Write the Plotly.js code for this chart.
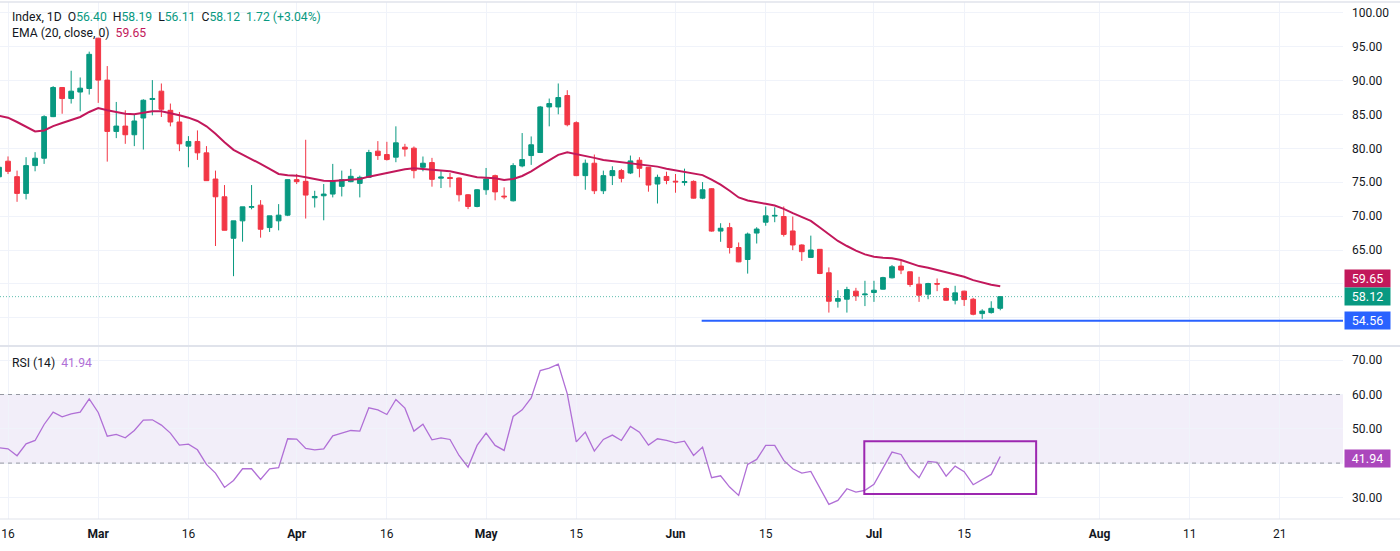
<!DOCTYPE html>
<html>
<head>
<meta charset="utf-8">
<script src="https://cdn.plot.ly/plotly-3.0.1.min.js"></script>
<style>html,body{margin:0;padding:0;background:#fff;}#chart{width:1400px;height:551px;}</style>
</head>
<body>
<div id="chart"></div>
<script>
// ---- data (bar index -1 .. 110) ----
const firstIndex = -1;
const opens = [75.8,
78.1,75.82,73.35,77.45,78.54,84.67,88.97,87.34,88.3,88.82,
96.24,90.06,82.49,83.28,82.0,84.47,87.2,88.43,85.6,83.88,
80.32,81.01,79.33,75.47,72.85,66.73,69.3,71.3,71.62,68.31,
69.3,70.14,75.38,75.13,72.7,73.0,73.25,74.39,75.08,74.83,
75.72,79.58,79.08,78.69,80.17,80.02,77.2,77.9,75.6,75.7,
75.62,73.15,71.42,73.89,75.97,72.95,72.26,77.4,78.93,79.38,
86.1,86.1,87.78,83.78,75.97,77.8,73.74,75.97,76.71,76.36,
78.24,77.2,74.73,75.85,75.15,74.95,75.12,72.65,74.04,67.79,
68.3,65.37,63.6,67.5,69.1,70.0,69.94,67.81,65.74,63.91,
65.1,61.64,57.44,57.74,58.93,58.4,58.73,59.22,60.9,62.63,
61.79,59.96,58.48,60.06,59.32,57.59,58.93,57.74,55.62,55.77,
56.40];
const highs = [77.5,
78.8,76.71,78.69,79.43,84.87,89.17,89.0,91.44,90.45,94.26,
96.3,92.13,86.84,85.6,85.01,87.24,90.06,89.56,86.6,85.36,
81.8,82.64,80.32,76.71,74.58,69.3,71.37,74.58,72.36,70.04,
71.77,75.4,76.22,81.26,73.74,74.73,77.7,76.71,76.96,75.97,
79.78,81.06,80.96,83.24,80.66,80.27,78.79,78.59,76.71,76.36,
75.7,73.25,74.0,77.1,76.12,74.24,77.8,82.25,81.75,86.25,
87.34,89.56,88.57,83.98,78.34,79.08,76.71,77.35,76.96,78.93,
78.69,77.2,76.12,76.55,76.21,77.0,75.27,75.02,74.14,68.95,
69.0,66.11,67.57,68.36,71.42,71.3,71.42,69.94,65.84,67.12,
65.1,62.43,59.07,59.57,59.42,60.46,60.46,61.05,62.78,63.4,
61.8,61.05,60.16,60.8,59.47,59.72,59.0,57.94,56.26,57.44,
58.19];
const lows = [75.2,
76.2,72.11,72.46,76.61,77.7,84.6,85.1,86.6,85.46,87.93,
86.7,78.04,81.5,80.66,80.32,79.82,84.87,84.62,83.24,79.58,
77.2,78.29,75.2,65.59,67.9,61.14,66.23,71.0,66.82,67.66,
67.9,70.0,74.73,69.64,71.27,69.38,72.76,72.9,75.0,72.76,
75.7,78.29,78.2,77.95,78.79,75.57,76.61,74.34,74.14,74.24,
72.16,71.03,71.3,73.15,72.33,72.5,72.16,77.2,77.55,79.3,
83.24,85.01,83.24,75.9,73.89,73.25,73.25,74.58,74.98,76.2,
75.72,73.6,71.86,74.7,73.45,74.5,72.6,72.5,67.7,66.21,
64.48,63.2,61.52,65.96,68.58,69.1,66.98,64.98,63.4,63.9,
61.44,55.77,56.5,55.77,57.49,56.73,57.35,59.17,60.8,61.44,
59.57,57.35,57.74,58.93,57.49,56.98,56.75,55.37,54.85,55.62,
56.11];
const closes = [77.2,
76.6,73.35,77.45,78.54,84.67,88.97,87.34,88.43,88.87,93.86,
90.06,82.49,83.28,82.0,84.03,87.09,87.35,85.76,83.88,80.66,
81.01,79.33,75.23,72.85,67.91,69.3,71.37,71.4,68.06,70.04,
70.14,75.38,75.08,73.1,72.9,73.25,75.13,75.38,75.87,75.72,
79.38,78.93,78.34,80.81,79.88,76.71,77.8,75.42,75.75,75.55,
73.15,71.42,73.89,75.47,73.57,72.85,77.45,78.34,80.52,86.1,
86.6,87.49,83.48,75.97,77.8,73.74,75.97,76.71,75.57,78.14,
77.05,74.58,75.72,75.25,75.05,75.1,72.65,73.89,67.79,68.21,
65.37,63.25,67.35,68.09,70.04,70.1,67.3,65.74,64.75,65.0,
61.54,57.44,57.84,59.17,58.23,58.5,59.07,60.93,62.53,62.04,
59.91,58.33,60.06,59.97,57.59,58.68,57.69,55.52,55.99,56.40,
58.12];
const ema20 = [84.8,
84.52,83.88,83.14,82.49,82.64,83.28,83.73,84.13,84.62,85.36,
85.95,85.61,85.36,85.11,85.01,85.21,85.46,85.46,85.21,84.87,
84.52,84.03,83.24,82.15,80.91,79.78,79.08,78.44,77.70,76.96,
76.22,76.02,75.97,75.72,75.47,75.23,75.18,75.28,75.38,75.47,
75.82,76.12,76.31,76.61,76.91,77.06,76.96,76.86,76.81,76.61,
76.31,75.97,75.72,75.67,75.57,75.33,75.47,75.92,76.61,77.45,
78.29,79.03,79.43,79.18,78.93,78.59,78.29,78.14,77.95,77.85,
77.70,77.45,77.30,77.0,76.75,76.55,76.3,76.05,75.37,74.63,
73.74,72.75,72.31,72.01,71.81,71.57,71.07,70.43,69.84,69.30,
68.31,67.32,66.33,65.59,64.90,64.36,64.01,63.86,63.77,63.52,
63.02,62.63,62.38,62.04,61.69,61.40,61.05,60.56,60.17,59.88,
59.65];
const rsi14 = [44.5,
44.17,42.14,45.63,46.6,51.26,54.85,53.5,54.37,54.85,58.74,
54.76,47.86,48.35,47.38,49.51,52.52,52.62,51.07,48.74,45.24,
45.53,43.88,39.61,37.09,32.91,34.95,38.35,38.35,35.24,38.35,
38.64,47.09,46.99,44.27,43.88,44.17,47.96,48.74,49.51,49.32,
56.12,55.53,54.17,58.54,56.02,49.32,51.36,46.8,47.38,46.89,
42.23,38.83,45.15,48.74,45.15,43.69,53.59,55.53,59.03,66.99,
67.67,68.88,60.19,46.2,49.03,43.5,46.89,48.16,46.6,50.68,
49.03,45.24,47.09,46.6,45.92,46.41,42.23,44.66,35.73,36.31,
33.01,30.58,39.61,41.07,45.15,45.15,40.78,38.35,37.09,37.57,
32.72,27.96,29.13,32.52,31.55,32.04,33.79,38.54,43.2,42.52,
38.35,35.73,40.49,40.19,36.21,39.13,37.48,33.69,35.15,36.7,
41.94];
const tickIdx = [0,10,20,32,42,53,63,74,84,96,106,121,131,141];
const tickLabels = ['16','<b>Mar</b>','16','<b>Apr</b>','16','<b>May</b>','15','<b>Jun</b>','15','<b>Jul</b>','15','<b>Aug</b>','11','21'];
const priceTicks = [55,60,65,70,75,80,85,90,95,100];
const priceTickText = ['','','65.00','70.00','75.00','80.00','85.00','90.00','95.00','100.00'];
const rsiTicks = [30,40,50,60,70];
const rsiTickText = ['30.00','','50.00','60.00','70.00'];
const supportLevel = 54.56;
const supportStartIdx = 76.9;
const rsiBox = {x0: 94.93, x1: 113.98, y0: 30.99, y1: 46.36};
const lastClose = 58.12, lastEma = 59.65, lastRsi = 41.94;
const changeText = '1.72 (+3.04%)';

// ---- build ----
const xs = closes.map((_, i) => i + firstIndex);
const GREEN = '#089981', RED = '#f23645', EMA_C = '#c2185b', RSI_C = '#b06fd6', BLUE = '#2962ff';
const FONT = 'Roboto, "Liberation Sans", Arial, sans-serif';
const XMAX = 148.0;

const traces = [
  {type:'candlestick', x:xs, open:opens, high:highs, low:lows, close:closes,
   xaxis:'x', yaxis:'y',
   increasing:{line:{color:GREEN,width:1}, fillcolor:GREEN},
   decreasing:{line:{color:RED,width:1}, fillcolor:RED},
   whiskerwidth:0, hoverinfo:'skip'},
  {type:'scatter', mode:'lines', x:xs, y:ema20, xaxis:'x', yaxis:'y',
   line:{color:EMA_C, width:2}, hoverinfo:'skip'},
  {type:'scatter', mode:'lines', x:xs, y:rsi14, xaxis:'x', yaxis:'y2',
   line:{color:RSI_C, width:1.3}, hoverinfo:'skip'}
];

const SEP = '#e0e3eb';
const shapes = [
  {type:'rect', xref:'paper', yref:'y2', x0:0, x1:1, y0:40, y1:60, fillcolor:'rgba(126,87,194,0.10)', line:{width:0}, layer:'below'},
  {type:'line', xref:'paper', yref:'y2', x0:0, x1:1, y0:60, y1:60, line:{color:'#9598a1', width:1, dash:'4px,4px'}},
  {type:'line', xref:'paper', yref:'y2', x0:0, x1:1, y0:40, y1:40, line:{color:'#9598a1', width:1, dash:'4px,4px'}},
  {type:'rect', xref:'x', yref:'y2', x0:rsiBox.x0, x1:rsiBox.x1, y0:rsiBox.y0, y1:rsiBox.y1, line:{color:'#9c27b0', width:2}, fillcolor:'rgba(0,0,0,0)'},
  {type:'line', xref:'paper', yref:'y', x0:0, x1:1, y0:lastClose, y1:lastClose, line:{color:'rgba(8,153,129,0.65)', width:1, dash:'1px,2px'}},
  {type:'line', xref:'x', yref:'y', x0:supportStartIdx, x1:XMAX, y0:supportLevel, y1:supportLevel, line:{color:BLUE, width:2}},
  {type:'line', xref:'paper', yref:'paper', x0:0, x1:1.05, y0:0.3346, y1:0.3346, line:{color:SEP, width:2}},
  {type:'line', xref:'paper', yref:'paper', x0:0, x1:1.05, y0:1, y1:1, line:{color:SEP, width:1.5}},
  {type:'line', xref:'paper', yref:'paper', x0:0, x1:1.05, y0:0, y1:0, line:{color:SEP, width:1}}
];

function tag(val, yref, color, shift){
  return {xref:'paper', x:1, xanchor:'left', xshift:1, yref:yref, y:val, yanchor:'middle', yshift:shift||0,
    text:val.toFixed(2), showarrow:false, bgcolor:color, font:{family:FONT, size:12.5, color:'#ffffff'},
    width:43, height:15, borderpad:1, align:'center'};
}
const dk = '#131722';
const sp = '\u00a0\u00a0';
const g = v => '<span style="color:'+GREEN+'">'+v+'</span>';
const LF = 12.2;
const annotations = [
  {xref:'paper', yref:'paper', x:0.0075, y:0.971, xanchor:'left', yanchor:'middle', showarrow:false,
   font:{family:FONT, size:LF, color:dk},
   text:'Index, 1D'+sp+'O'+g(opens[opens.length-1].toFixed(2))+sp+'H'+g(highs[highs.length-1].toFixed(2))+sp+'L'+g(lows[lows.length-1].toFixed(2))+sp+'C'+g(closes[closes.length-1].toFixed(2))+sp+g(changeText)},
  {xref:'paper', yref:'paper', x:0.0075, y:0.940, xanchor:'left', yanchor:'middle', showarrow:false,
   font:{family:FONT, size:LF, color:dk},
   text:'EMA (20, close, 0)'+sp+'<span style="color:'+EMA_C+'">'+lastEma.toFixed(2)+'</span>'},
  {xref:'paper', yref:'paper', x:0.0075, y:0.302, xanchor:'left', yanchor:'middle', showarrow:false,
   font:{family:FONT, size:LF, color:dk},
   text:'RSI (14)'+sp+'<span style="color:'+RSI_C+'">'+lastRsi.toFixed(2)+'</span>'},
  tag(lastEma, 'y', EMA_C, 8),
  tag(lastClose, 'y', GREEN, 0),
  tag(supportLevel, 'y', BLUE, 0),
  tag(lastRsi, 'y2', '#ab47bc', -2)
];

const axFont = {family:FONT, size:12, color:dk};
const layout = {
  width:1400, height:551,
  margin:{l:0, r:57, t:2, b:32, pad:0},
  paper_bgcolor:'#ffffff', plot_bgcolor:'#ffffff',
  showlegend:false, dragmode:false, hovermode:false,
  boxgap:0.25,
  xaxis:{type:'linear', range:[-0.89, XMAX], anchor:'y2', tickmode:'array', tickvals:tickIdx, ticktext:tickLabels,
    showgrid:true, gridcolor:'#f0f3fa', gridwidth:1, zeroline:false, showline:false, ticks:'',
    tickfont:axFont, ticklabelstandoff:6, rangeslider:{visible:false}, fixedrange:true},
  yaxis:{domain:[0.3346,1], range:[50.84,101.58], side:'right', anchor:'x', tickmode:'array', tickvals:priceTicks,
    ticktext:priceTickText, showgrid:true, gridcolor:'#f0f3fa', zeroline:false, showline:false,
    ticks:'', tickfont:axFont, ticklabelstandoff:8, fixedrange:true},
  yaxis2:{domain:[0,0.3346], range:[23.7,74.14], side:'right', anchor:'x', tickmode:'array', tickvals:rsiTicks,
    ticktext:rsiTickText, showgrid:true, gridcolor:'#f0f3fa', zeroline:false, showline:false,
    ticks:'', tickfont:axFont, ticklabelstandoff:8, fixedrange:true},
  shapes:shapes, annotations:annotations
};
Plotly.newPlot('chart', traces, layout, {staticPlot:true, displayModeBar:false});
</script>
</body>
</html>
